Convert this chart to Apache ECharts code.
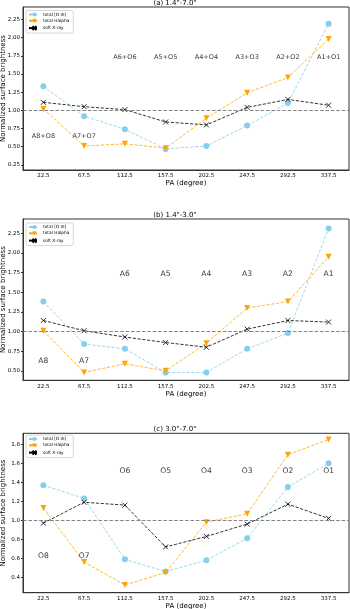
<!DOCTYPE html>
<html>
<head>
<meta charset="utf-8" />
<script src="https://cdn.jsdelivr.net/npm/echarts@6/dist/echarts.min.js"></script>
<style>
  html, body { margin: 0; padding: 0; background: #fff; }
  #main { width: 350px; height: 609px; }
</style>
</head>
<body>
<div id="main"></div>
<script type="text/javascript">
// position angles (x categories)
var paLabels = ['22.5', '67.5', '112.5', '157.5', '202.5', '247.5', '292.5', '337.5'];

// (a) 1.4"-7.0"
var oiiiA  = [1.33, 0.92, 0.74, 0.47, 0.51, 0.79, 1.10, 2.19];
var halphaA = [1.02, 0.51, 0.54, 0.48, 0.89, 1.24, 1.45, 1.98];
var xrayA  = [1.11, 1.05, 1.01, 0.84, 0.80, 1.04, 1.15, 1.07];
var regionsA = ['A8+O8', 'A7+O7', 'A6+O6', 'A5+O5', 'A4+O4', 'A3+O3', 'A2+O2', 'A1+O1'];
var yTicksA = [0.25, 0.5, 0.75, 1.0, 1.25, 1.5, 1.75, 2.0, 2.25];

// (b) 1.4"-3.0"
var oiiiB  = [1.38, 0.84, 0.78, 0.48, 0.48, 0.78, 0.98, 2.31];
var halphaB = [1.01, 0.48, 0.59, 0.50, 0.85, 1.30, 1.38, 1.95];
var xrayB  = [1.14, 1.01, 0.93, 0.86, 0.80, 1.03, 1.14, 1.12];
var regionsB = ['A8', 'A7', 'A6', 'A5', 'A4', 'A3', 'A2', 'A1'];
var yTicksB = [0.5, 0.75, 1.0, 1.25, 1.5, 1.75, 2.0, 2.25];

// (c) 3.0"-7.0"
var oiiiC  = [1.37, 1.23, 0.59, 0.46, 0.58, 0.81, 1.35, 1.60];
var halphaC = [1.13, 0.56, 0.32, 0.45, 0.98, 1.07, 1.69, 1.85];
var xrayC  = [0.97, 1.19, 1.16, 0.72, 0.83, 0.96, 1.17, 1.02];
var regionsC = ['O8', 'O7', 'O6', 'O5', 'O4', 'O3', 'O2', 'O1'];
var yTicksC = [0.4, 0.6, 0.8, 1.0, 1.2, 1.4, 1.6, 1.8];

var names = ['total [O III]', 'total Halpha', 'soft X-ray'];
var FONT = 'DejaVu Sans';
var xPath = 'path://M0,0 L10,10 M10,0 L0,10';

var panels = [
  { title: '(a) 1.4"-7.0"', titleTop: 0, top: 7, bottom: 439, min: 0.18, max: 2.42,
    ticks: yTicksA, dec: 2, o: oiiiA, h: halphaA, x: xrayA, reg: regionsA,
    regHi: 1.73, regLo: 0.64, regSize: 6.5, legTop: 10.5 },
  { title: '(b) 1.4"-3.0"', titleTop: 212, top: 219, bottom: 228.7, min: 0.38, max: 2.43,
    ticks: yTicksB, dec: 2, o: oiiiB, h: halphaB, x: xrayB, reg: regionsB,
    regHi: 1.73, regLo: 0.63, regSize: 7.6, legTop: 223 },
  { title: '(c) 3.0"-7.0"', titleTop: 426, top: 433.3, bottom: 16.3, min: 0.238, max: 1.916,
    ticks: yTicksC, dec: 1, o: oiiiC, h: halphaC, x: xrayC, reg: regionsC,
    regHi: 1.52, regLo: 0.625, regSize: 7.6, legTop: 435 }
];

var option = { animation: false, textStyle: { fontFamily: FONT },
  title: [], grid: [], xAxis: [], yAxis: [], legend: [], series: [] };

panels.forEach(function (p, i) {
  option.title.push({ text: p.title, left: 'center', top: p.titleTop, padding: 0,
    textStyle: { fontSize: 7, fontWeight: 'normal', color: '#000', fontFamily: FONT } });
  option.grid.push({ left: 23, right: 1, top: p.top, bottom: p.bottom, show: true,
    containLabel: false, outerBoundsMode: 'none',
    borderColor: '#333', borderWidth: 1, backgroundColor: 'transparent' });
  option.xAxis.push({ type: 'category', gridIndex: i, data: paLabels, boundaryGap: true,
    name: 'PA (degree)', nameLocation: 'middle', nameGap: 10, nameMoveOverlap: false,
    nameTextStyle: { fontSize: 7, color: '#000', fontFamily: FONT },
    axisLine: { lineStyle: { color: '#333', width: 1 } },
    axisTick: { alignWithLabel: true, length: 2, lineStyle: { color: '#333' } },
    axisLabel: { fontSize: 5.5, margin: 3, color: '#000', fontFamily: FONT },
    splitLine: { show: false } });
  option.yAxis.push({ type: 'value', gridIndex: i, min: p.min, max: p.max,
    name: 'Normalized surface brightness', nameLocation: 'middle', nameGap: 16,
    nameMoveOverlap: false, nameRotate: 90,
    nameTextStyle: { fontSize: 7, color: '#000', fontFamily: FONT },
    axisLine: { show: true, lineStyle: { color: '#333', width: 1 } },
    axisTick: { show: true, length: 2, customValues: p.ticks, lineStyle: { color: '#333' } },
    axisLabel: { fontSize: 5.5, margin: 3, color: '#000', fontFamily: FONT,
      customValues: p.ticks,
      formatter: (function (d) { return function (v) { return v.toFixed(d); }; })(p.dec) },
    splitLine: { show: false } });
  option.legend.push({ orient: 'vertical', left: 26, top: p.legTop, data: names,
    itemWidth: 11, itemHeight: 5, itemGap: 2.3, padding: [2, 4, 2, 2],
    backgroundColor: '#fff', borderColor: '#ccc', borderWidth: 0.8, borderRadius: 2,
    textStyle: { fontSize: 4.3, color: '#000', fontFamily: FONT, padding: [0, 0, 0, -2] } });

  option.series.push({ name: names[0], type: 'line', xAxisIndex: i, yAxisIndex: i,
    data: p.o, symbol: 'circle', symbolSize: 6, color: '#87CEEB',
    lineStyle: { type: 'dashed', width: 0.8, color: '#87CEEB' },
    itemStyle: { color: '#87CEEB' }, z: 2,
    markLine: { silent: true, symbol: 'none', label: { show: false },
      lineStyle: { color: '#777', type: 'dashed', width: 0.9 },
      data: [{ yAxis: 1.0 }] } });
  option.series.push({ name: names[1], type: 'line', xAxisIndex: i, yAxisIndex: i,
    data: p.h, symbol: 'triangle', symbolRotate: 180, symbolSize: 6, color: '#FFA500',
    lineStyle: { type: 'dashed', width: 0.8, color: '#FFA500' },
    itemStyle: { color: '#FFA500' }, z: 3 });
  option.series.push({ name: names[2], type: 'line', xAxisIndex: i, yAxisIndex: i,
    data: p.x, symbol: xPath, symbolSize: 5, color: '#000',
    lineStyle: { type: 'dashed', width: 0.8, color: '#000' },
    itemStyle: { color: '#000', borderColor: '#000', borderWidth: 0.8 }, z: 4 });

  // region annotations
  var regData = p.reg.map(function (r, k) {
    return { name: r, value: [k, k < 2 ? p.regLo : p.regHi] };
  });
  option.series.push({ type: 'scatter', xAxisIndex: i, yAxisIndex: i, silent: true,
    symbolSize: 0, data: regData, z: 5,
    label: { show: true, position: 'inside', formatter: '{b}', fontSize: p.regSize,
      color: '#000', fontFamily: FONT } });
});

var myChart = echarts.init(document.getElementById('main'), null, { renderer: 'canvas' });
myChart.setOption(option);
</script>
</body>
</html>
